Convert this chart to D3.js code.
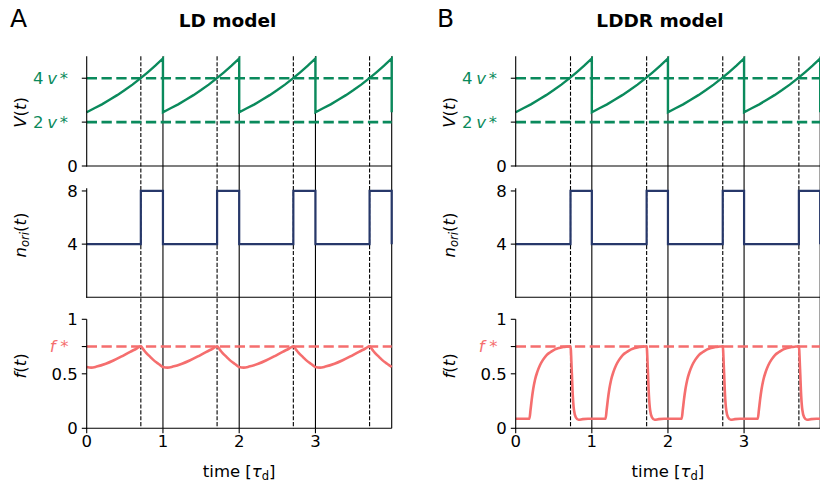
<!DOCTYPE html>
<html><head><meta charset="utf-8">
<script src="https://cdn.jsdelivr.net/npm/d3@7/dist/d3.min.js"></script>
<style>body{margin:0;background:#fff}svg{display:block;font-family:"DejaVu Sans",sans-serif}</style>
</head><body><svg id="c" width="820" height="487"></svg>
<script>
// ---------- data ----------
const timeTicks = [0, 1, 2, 3];
const divisionTimes = [1, 2, 3, 4];              // solid vertical lines
const initTimesLD = [0.71, 1.71, 2.71, 3.71];    // dashed vertical lines (LD)
const initTimesLDDR = [0.72, 1.72, 2.72, 3.72];  // dashed vertical lines (LDDR)
const vLevels = [2, 4];                          // 2v*, 4v*
const fStar = 0.75;

// V(t) in units of v*  [time, V]
const volume = [
 [0,2.45],[0.1,2.63],[0.2,2.81],[0.3,3.02],[0.4,3.23],[0.5,3.46],[0.6,3.71],[0.7,3.98],[0.8,4.27],[0.9,4.57],[1,4.90],
 [1,2.45],[1.1,2.63],[1.2,2.81],[1.3,3.02],[1.4,3.23],[1.5,3.46],[1.6,3.71],[1.7,3.98],[1.8,4.27],[1.9,4.57],[2,4.90],
 [2,2.45],[2.1,2.63],[2.2,2.81],[2.3,3.02],[2.4,3.23],[2.5,3.46],[2.6,3.71],[2.7,3.98],[2.8,4.27],[2.9,4.57],[3,4.90],
 [3,2.45],[3.1,2.63],[3.2,2.81],[3.3,3.02],[3.4,3.23],[3.5,3.46],[3.6,3.71],[3.7,3.98],[3.8,4.27],[3.9,4.57],[4,4.90],
 [4,2.45]
];

// n_ori(t) step function [time, n]
const originsLD   = [[0,4],[0.71,8],[1,4],[1.71,8],[2,4],[2.71,8],[3,4],[3.71,8],[4,4]];
const originsLDDR = [[0,4],[0.72,8],[1,4],[1.72,8],[2,4],[2.72,8],[3,4],[3.72,8],[4,4]];

// f(t), LD model [time, f]
const fractionLD = [
 [0,0.562],[0.06,0.557],[0.13,0.566],[0.25,0.592],[0.35,0.622],[0.45,0.657],[0.57,0.702],[0.65,0.730],[0.71,0.752],
 [0.743,0.724],[0.78,0.692],[0.83,0.657],[0.87,0.630],[0.917,0.603],[0.96,0.582],
 [1,0.562],[1.06,0.557],[1.13,0.566],[1.25,0.592],[1.35,0.622],[1.45,0.657],[1.57,0.702],[1.65,0.730],[1.71,0.752],
 [1.743,0.724],[1.78,0.692],[1.83,0.657],[1.87,0.630],[1.917,0.603],[1.96,0.582],
 [2,0.562],[2.06,0.557],[2.13,0.566],[2.25,0.592],[2.35,0.622],[2.45,0.657],[2.57,0.702],[2.65,0.730],[2.71,0.752],
 [2.743,0.724],[2.78,0.692],[2.83,0.657],[2.87,0.630],[2.917,0.603],[2.96,0.582],
 [3,0.562],[3.06,0.557],[3.13,0.566],[3.25,0.592],[3.35,0.622],[3.45,0.657],[3.57,0.702],[3.65,0.730],[3.71,0.752],
 [3.743,0.724],[3.78,0.692],[3.83,0.657],[3.87,0.630],[3.917,0.603],[3.96,0.582],[4,0.562]
];

// f(t), LDDR model [time, f]
const fractionLDDR = [
 [0,0.088],[0.18,0.088],[0.195,0.17],[0.21,0.26],[0.23,0.36],[0.253,0.443],[0.285,0.52],[0.32,0.581],[0.36,0.63],[0.406,0.672],[0.46,0.70],[0.516,0.724],[0.57,0.737],[0.626,0.746],[0.68,0.750],[0.72,0.753],
 [0.735,0.55],[0.75,0.30],[0.765,0.17],[0.79,0.10],[0.825,0.078],[0.88,0.084],[0.95,0.088],
 [1.18,0.088],[1.195,0.17],[1.21,0.26],[1.23,0.36],[1.253,0.443],[1.285,0.52],[1.32,0.581],[1.36,0.63],[1.406,0.672],[1.46,0.70],[1.516,0.724],[1.57,0.737],[1.626,0.746],[1.68,0.750],[1.72,0.753],
 [1.735,0.55],[1.75,0.30],[1.765,0.17],[1.79,0.10],[1.825,0.078],[1.88,0.084],[1.95,0.088],
 [2.18,0.088],[2.195,0.17],[2.21,0.26],[2.23,0.36],[2.253,0.443],[2.285,0.52],[2.32,0.581],[2.36,0.63],[2.406,0.672],[2.46,0.70],[2.516,0.724],[2.57,0.737],[2.626,0.746],[2.68,0.750],[2.72,0.753],
 [2.735,0.55],[2.75,0.30],[2.765,0.17],[2.79,0.10],[2.825,0.078],[2.88,0.084],[2.95,0.088],
 [3.18,0.088],[3.195,0.17],[3.21,0.26],[3.23,0.36],[3.253,0.443],[3.285,0.52],[3.32,0.581],[3.36,0.63],[3.406,0.672],[3.46,0.70],[3.516,0.724],[3.57,0.737],[3.626,0.746],[3.68,0.750],[3.72,0.753],
 [3.735,0.55],[3.75,0.30],[3.765,0.17],[3.79,0.10],[3.825,0.078],[3.88,0.084],[3.95,0.088],[4,0.088]
];

// ---------- drawing ----------
const GREEN = "#0a8a5c", NAVY = "#27386a", SALMON = "#f56e6e";
const FS = 16.5;
const svg = d3.select("#c");

const rows = {
  V: {top: 56.3, bottom: 166},
  n: {top: 188.3, bottom: 297.3},
  f: {top: 319.3, bottom: 428.3}
};

const panels = [
  {letter: "A", title: "LD model", x0: 86.7, x1: 391.7, titleX: 227.5, letterX: 10,
   init: initTimesLD, origins: originsLD, fraction: fractionLD},
  {letter: "B", title: "LDDR model", x0: 515.7, x1: 820.2, titleX: 660, letterX: 437,
   init: initTimesLDDR, origins: originsLDDR, fraction: fractionLDDR}
];

panels.forEach(p => {
  const g = svg.append("g");
  const x = d3.scaleLinear().domain([0, 4]).range([p.x0, p.x1]);
  const yV = d3.scaleLinear().domain([0, 5]).range([rows.V.bottom, rows.V.top]);
  const yN = d3.scaleLinear().domain([0, 8.2]).range([rows.n.bottom, rows.n.top]);
  const yF = d3.scaleLinear().domain([0, 1]).range([rows.f.bottom, rows.f.top]);

  // panel letter & title
  g.append("text").attr("x", p.letterX).attr("y", 26.7).attr("font-size", 25).text(p.letter);
  g.append("text").attr("x", p.titleX).attr("y", 26.7).attr("font-size", 18.5)
    .attr("font-weight", "bold").attr("text-anchor", "middle").text(p.title);

  // vertical lines spanning all rows
  g.selectAll(".div").data(divisionTimes).join("line")
    .attr("x1", d => x(d)).attr("x2", d => x(d))
    .attr("y1", rows.V.top).attr("y2", rows.f.bottom)
    .attr("stroke", "#000").attr("stroke-width", 1.1);
  g.selectAll(".ini").data(p.init).join("line")
    .attr("x1", d => x(d)).attr("x2", d => x(d))
    .attr("y1", rows.V.top).attr("y2", rows.f.bottom)
    .attr("stroke", "#000").attr("stroke-width", 1.1).attr("stroke-dasharray", "4.1,1.8");

  // horizontal reference lines
  g.selectAll(".vl").data(vLevels).join("line")
    .attr("x1", p.x0).attr("x2", p.x1).attr("y1", d => yV(d)).attr("y2", d => yV(d))
    .attr("stroke", GREEN).attr("stroke-width", 2.6).attr("stroke-dasharray", "10.3,4.5");
  g.append("line").attr("x1", p.x0).attr("x2", p.x1).attr("y1", yF(fStar)).attr("y2", yF(fStar))
    .attr("stroke", SALMON).attr("stroke-width", 2.6).attr("stroke-dasharray", "10.3,4.5");

  // curves
  g.append("path").datum(volume)
    .attr("d", d3.line().x(d => x(d[0])).y(d => yV(d[1])))
    .attr("fill", "none").attr("stroke", GREEN).attr("stroke-width", 2.4);
  g.append("path").datum(p.origins)
    .attr("d", d3.line().x(d => x(d[0])).y(d => yN(d[1])).curve(d3.curveStepAfter))
    .attr("fill", "none").attr("stroke", NAVY).attr("stroke-width", 2.2);
  g.append("path").datum(p.fraction)
    .attr("d", d3.line().x(d => x(d[0])).y(d => yF(d[1])).curve(d3.curveMonotoneX))
    .attr("fill", "none").attr("stroke", SALMON).attr("stroke-width", 2.6);

  // spines
  Object.values(rows).forEach(r => {
    g.append("line").attr("x1", p.x0).attr("x2", p.x0).attr("y1", r.top).attr("y2", r.bottom + 0.55)
      .attr("stroke", "#000").attr("stroke-width", 1.1);
    g.append("line").attr("x1", p.x0 - 0.55).attr("x2", p.x1).attr("y1", r.bottom).attr("y2", r.bottom)
      .attr("stroke", "#000").attr("stroke-width", 1.1);
  });

  // y ticks helper
  function yTicks(scale, vals, labels) {
    vals.forEach((v, i) => {
      g.append("line").attr("x1", p.x0 - 4.9).attr("x2", p.x0).attr("y1", scale(v)).attr("y2", scale(v))
        .attr("stroke", "#000").attr("stroke-width", 1.1);
      if (labels[i] !== null) {
        g.append("text").attr("x", p.x0 - 9).attr("y", scale(v)).attr("dy", "0.36em")
          .attr("text-anchor", "end").attr("font-size", FS).text(labels[i]);
      }
    });
  }
  yTicks(yV, [0], ["0"]);
  yTicks(yN, [4, 8], ["4", "8"]);
  yTicks(yF, [0, 0.5, 1], ["0", "0.5", "1"]);

  // coloured math tick labels
  vLevels.forEach(v => {
    const yy = yV(v);
    g.append("line").attr("x1", p.x0 - 4.9).attr("x2", p.x0).attr("y1", yy).attr("y2", yy)
      .attr("stroke", "#000").attr("stroke-width", 1.1);
    const t = g.append("text").attr("y", yy).attr("dy", "0.36em").attr("font-size", FS).attr("fill", GREEN);
    t.append("tspan").attr("x", p.x0 - 53.8).text(String(v));
    t.append("tspan").attr("x", p.x0 - 39.5).attr("font-style", "italic").text("v");
    t.append("tspan").attr("x", p.x0 - 27).text("*");
  });
  {
    const yy = yF(fStar);
    g.append("line").attr("x1", p.x0 - 4.9).attr("x2", p.x0).attr("y1", yy).attr("y2", yy)
      .attr("stroke", "#000").attr("stroke-width", 1.1);
    const t = g.append("text").attr("y", yy).attr("dy", "0.36em").attr("font-size", FS).attr("fill", SALMON);
    t.append("tspan").attr("x", p.x0 - 37).attr("font-style", "italic").text("f");
    t.append("tspan").attr("x", p.x0 - 26.5).text("*");
  }

  // x ticks (bottom row)
  timeTicks.forEach(v => {
    g.append("line").attr("x1", x(v)).attr("x2", x(v)).attr("y1", rows.f.bottom).attr("y2", rows.f.bottom + 4.9)
      .attr("stroke", "#000").attr("stroke-width", 1.1);
    g.append("text").attr("x", x(v)).attr("y", 446.5).attr("text-anchor", "middle")
      .attr("font-size", FS).text(String(v));
  });
  const xl = g.append("text").attr("x", (p.x0 + p.x1) / 2).attr("y", 476.5)
    .attr("text-anchor", "middle").attr("font-size", FS);
  xl.append("tspan").text("time [");
  xl.append("tspan").attr("font-style", "italic").text("τ");
  xl.append("tspan").attr("font-size", FS * 0.7).attr("dy", 3).text("d");
  xl.append("tspan").attr("dy", -3).text("]");

  // y labels (rotated)
  function yLabel(cy, build) {
    const t = g.append("text").attr("transform", `translate(${p.x0 - 61},${cy}) rotate(-90)`)
      .attr("text-anchor", "middle").attr("font-size", FS);
    build(t);
  }
  yLabel(112.5, t => {
    t.append("tspan").attr("font-style", "italic").text("V");
    t.append("tspan").text("(");
    t.append("tspan").attr("font-style", "italic").text("t");
    t.append("tspan").text(")");
  });
  yLabel(235, t => {
    t.append("tspan").attr("font-style", "italic").text("n");
    t.append("tspan").attr("font-style", "italic").attr("font-size", FS * 0.7).attr("dy", 3.5).text("ori");
    t.append("tspan").attr("dy", -3.5).text("(");
    t.append("tspan").attr("font-style", "italic").text("t");
    t.append("tspan").text(")");
  });
  yLabel(366, t => {
    t.append("tspan").attr("font-style", "italic").text("f");
    t.append("tspan").text("(");
    t.append("tspan").attr("font-style", "italic").text("t");
    t.append("tspan").text(")");
  });
});
</script></body></html>
